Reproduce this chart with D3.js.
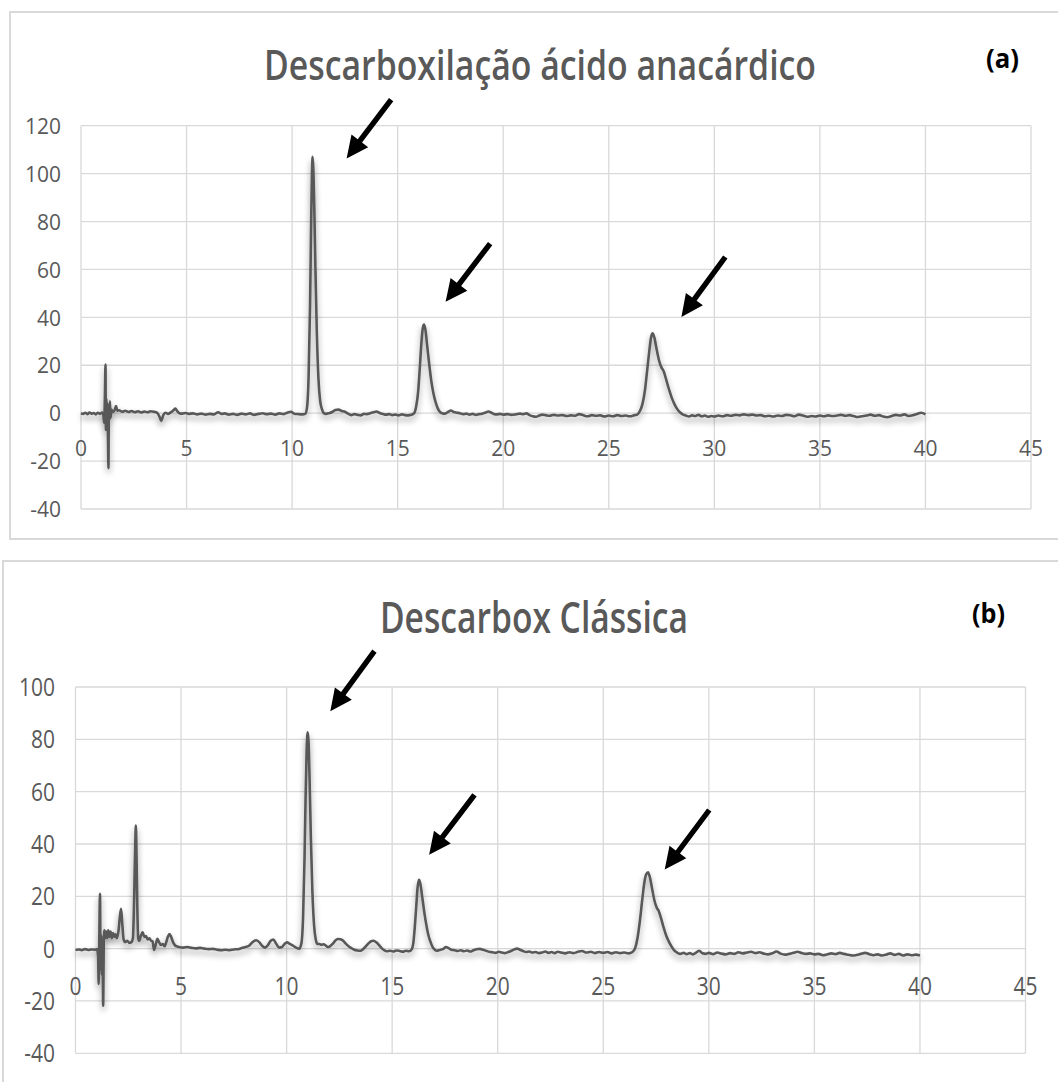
<!DOCTYPE html>
<html>
<head>
<meta charset="utf-8">
<script src="https://cdn.jsdelivr.net/npm/d3@7"></script>
<style>
  html, body { margin: 0; padding: 0; background: #fff; }
  svg { display: block; }
  text { font-family: "Open Sans", "Noto Sans", sans-serif; }
</style>
</head>
<body>
<div id="chart"></div>
<script>
// Chromatograms: time (min) vs detector signal

const xTicks = [0, 5, 10, 15, 20, 25, 30, 35, 40, 45];
const yTicksA = [-40, -20, 0, 20, 40, 60, 80, 100, 120];
const yTicksB = [-40, -20, 0, 20, 40, 60, 80, 100];

const titleA = "Descarboxilação ácido anacárdico";
const titleB = "Descarbox Clássica";
const tagA = "(a)", tagB = "(b)";

// [time, signal]
const seriesA = [
  [0,0],[0.1,-0.3],[0.2,0.2],[0.3,-0.4],[0.4,0.3],[0.5,-0.2],[0.6,0.1],[0.7,-0.5],[0.8,0.2],[0.9,-0.3],[1.0,0.3],[1.06,-1],
  [1.1,-4],[1.13,6],[1.16,20.3],[1.18,-7],[1.2,6],[1.22,-6],[1.25,4],[1.27,-5],[1.3,-23],[1.32,3],[1.34,-3],[1.37,5],[1.4,-2],[1.44,1.5],[1.5,0.5],[1.58,1],[1.66,3],[1.72,1],
  [1.8,1.2],[1.95,0.6],[2.1,1.0],[2.25,0.5],[2.4,0.9],[2.55,0.4],[2.7,0.8],[2.85,0.3],[3.0,0.7],[3.15,0.4],[3.3,0.8],[3.45,0.6],[3.6,0.2],[3.72,-1.5],[3.8,-3.2],[3.9,-0.8],[4.0,0.2],[4.12,-0.3],[4.25,0.3],[4.38,1.2],[4.47,1.9],[4.56,0.8],[4.66,0],[4.8,-0.2],[4.95,0.1],
  [5.1,-0.3],[5.3,-0.1],[5.5,-0.5],[5.7,-0.2],[5.9,-0.6],[6.1,-0.3],[6.3,-0.5],[6.5,0.4],[6.65,-0.3],[6.8,-0.1],[7.0,-0.6],[7.2,-0.3],[7.4,-0.7],[7.6,-0.2],[7.8,-0.5],[8.0,-0.1],[8.2,-0.7],[8.4,-0.3],[8.6,0],[8.8,-0.4],[9.0,-0.2],[9.2,-0.6],[9.4,-0.1],[9.6,-0.4],[9.8,0.3],[9.95,0.6],[10.1,-0.2],[10.3,-0.4],[10.5,-0.5],[10.62,-0.3],
  [10.7,2],[10.78,15],[10.85,45],[10.9,78],[10.94,100],[10.97,107],[11.0,103],[11.05,86],[11.1,62],[11.17,34],[11.25,14],[11.33,5],[11.42,1.5],[11.5,0],
  [11.6,-0.3],[11.75,0],[11.9,0.5],[12.05,1.3],[12.2,1.5],[12.35,0.9],[12.5,0.6],[12.65,-0.2],[12.8,-0.8],[12.95,-0.4],[13.1,-0.7],[13.25,-0.9],[13.4,-0.3],[13.55,-0.4],[13.7,0],[13.85,0.4],[14.0,0.7],[14.15,0.1],[14.3,-0.3],[14.45,-0.6],[14.6,-0.4],[14.75,-0.8],[14.9,-0.6],[15.05,-0.9],[15.2,-0.5],[15.35,-0.8],[15.5,-0.9],[15.65,-0.7],
  [15.78,0],[15.88,3],[15.97,9],[16.05,19],[16.13,30],[16.2,36],[16.25,37],[16.31,35],[16.4,28],[16.5,20],[16.6,13],[16.7,8],[16.8,4.5],[16.9,2],[17.0,0.5],[17.1,0],
  [17.25,-0.2],[17.4,0.6],[17.52,1.1],[17.65,0.5],[17.8,0.2],[17.95,0],[18.1,-0.4],[18.25,-0.2],[18.4,-0.6],[18.55,-0.3],[18.7,-0.7],[18.85,-0.4],[19.0,-0.2],[19.15,0.2],[19.3,0.7],[19.42,0.3],[19.55,-0.3],[19.7,-0.5],[19.85,-0.3],[20.0,-0.6],[20.2,-0.4],[20.4,-0.7],[20.6,-0.5],[20.8,-0.2],[20.95,-0.4],[21.1,-0.1],[21.25,-0.8],[21.4,-1.3],[21.55,-1.5],[21.7,-1.0],[21.85,-0.6],[22.0,-0.8],[22.2,-1.1],[22.4,-0.7],[22.6,-1.0],[22.8,-0.8],[23.0,-1.2],[23.2,-0.9],[23.4,-1.1],[23.6,-0.4],[23.8,-0.9],[24.0,-1.3],[24.2,-0.8],[24.4,-1.1],[24.6,-0.9],[24.8,-1.4],[25.0,-1.0],[25.2,-1.3],[25.4,-0.8],[25.6,-1.2],[25.8,-1.0],[26.0,-1.3],[26.2,-0.9],[26.35,-0.6],
  [26.48,1],[26.6,4],[26.72,10],[26.82,18],[26.92,26],[27.0,31.5],[27.08,33.3],[27.16,31.5],[27.26,27],[27.38,22],[27.5,19],[27.6,17.5],[27.72,14],[27.85,10],[27.98,6.5],[28.1,4],[28.22,2],[28.35,0.5],[28.5,-0.5],
  [28.65,-1],[28.8,-1.4],[28.95,-0.9],[29.1,-1.2],[29.25,-0.7],[29.4,-1.3],[29.55,-1.0],[29.7,-1.5],[29.85,-1.2],[30.0,-1.4],[30.2,-1.0],[30.4,-1.3],[30.6,-0.8],[30.8,-1.1],[31.0,-0.7],[31.2,-0.9],[31.4,-0.5],[31.6,-0.8],[31.8,-0.6],[32.0,-1.0],[32.2,-0.8],[32.4,-1.3],[32.6,-1.1],[32.8,-1.4],[33.0,-1.0],[33.2,-1.2],[33.4,-0.7],[33.6,-0.9],[33.8,-1.3],[34.0,-0.6],[34.2,-1.0],[34.4,-1.5],[34.6,-1.2],[34.8,-1.4],[35.0,-1.0],[35.2,-1.3],[35.4,-0.9],[35.6,-1.2],[35.8,-1.0],[36.0,-0.7],[36.2,-1.1],[36.4,-0.8],[36.6,-1.2],[36.8,-1.6],[37.0,-1.3],[37.2,-1.0],[37.4,-0.6],[37.6,-1.1],[37.8,-0.8],[38.0,-1.4],[38.2,-1.7],[38.4,-1.2],[38.6,-0.7],[38.8,-1.0],[39.0,-0.5],[39.2,-1.2],[39.4,-0.9],[39.6,-0.3],[39.8,0.2],[40.0,-0.5]
];

const seriesB = [
  [0,-0.5],[0.15,-0.3],[0.3,-0.6],[0.45,-0.2],[0.6,-0.5],[0.75,-0.3],[0.9,-0.4],[1.02,-0.2],
  [1.07,-3],[1.1,-13.5],[1.13,6],[1.16,21],[1.19,-8],[1.22,5],[1.25,-10],[1.28,3],[1.31,-21.8],[1.34,2],[1.37,7],[1.4,4],[1.45,6.5],[1.5,4],[1.55,7],[1.6,4.5],[1.66,6.5],[1.72,4],[1.78,6],[1.84,4.5],[1.9,5.5],[1.96,4],[2.04,7],[2.1,12],[2.16,15.2],[2.22,9],[2.28,3.5],[2.36,2.5],[2.45,3],[2.55,2.2],[2.65,2.5],[2.72,4],[2.78,20],[2.83,40],[2.86,47],[2.89,36],[2.93,15],[2.97,4],[3.02,3],[3.1,5],[3.18,6.2],[3.26,4.5],[3.34,4.8],[3.42,3.5],[3.5,4],[3.58,3],[3.65,2.8],[3.72,-0.5],[3.8,1.5],[3.88,3.8],[3.96,2.5],[4.05,1.4],[4.14,1.8],[4.22,0.9],[4.3,2.5],[4.38,4.6],[4.45,5.6],[4.53,4.5],[4.62,2.5],[4.72,1.2],[4.82,0.8],[4.95,0.5],
  [5.1,0.4],[5.3,0.6],[5.5,0.3],[5.7,0.1],[5.9,0.3],[6.1,0],[6.3,-0.2],[6.5,-0.1],[6.7,-0.4],[6.9,-0.6],[7.1,-0.4],[7.3,-0.6],[7.5,-0.3],[7.7,-0.2],[7.9,0.3],[8.05,0.6],[8.2,1.0],[8.35,2.2],[8.55,3.2],[8.7,2.5],[8.85,1.0],[8.98,0.4],[9.1,1.2],[9.25,3.0],[9.37,3.5],[9.5,2.0],[9.65,0.4],[9.78,0.6],[9.9,1.8],[10.02,2.4],[10.15,1.8],[10.3,1.2],[10.45,0.4],[10.6,0],
  [10.7,2],[10.78,12],[10.85,35],[10.9,58],[10.95,76],[11.0,82.7],[11.04,79],[11.09,64],[11.15,42],[11.22,22],[11.3,9],[11.38,3.5],[11.46,1.8],
  [11.55,1.8],[11.65,1.5],[11.75,1.7],[11.85,1.2],[11.95,0.6],[12.05,0.9],[12.18,1.8],[12.3,3.0],[12.42,3.7],[12.55,3.6],[12.68,3.0],[12.8,1.9],[12.92,1.0],[13.05,0.3],[13.2,-0.4],[13.35,-0.7],[13.5,-0.8],[13.62,-0.2],[13.75,0.9],[13.88,2.0],[14.0,2.8],[14.12,3.0],[14.25,2.4],[14.38,1.3],[14.5,0.2],[14.62,-0.6],[14.75,-1.0],[14.9,-0.8],[15.05,-1.1],[15.2,-0.7],[15.35,-0.9],[15.5,-1.2],[15.65,-0.8],[15.8,-1.0],[15.92,-0.3],
  [16.0,2],[16.07,8],[16.14,16],[16.2,23],[16.27,26.3],[16.33,25],[16.42,20],[16.52,14],[16.62,9],[16.72,5],[16.82,2.5],[16.92,0.6],[17.02,-0.4],[17.12,-0.8],
  [17.25,-0.5],[17.4,-0.2],[17.55,0.6],[17.65,0.3],[17.8,-0.4],[17.95,-0.6],[18.1,-0.9],[18.25,-0.6],[18.4,-1.0],[18.55,-0.7],[18.7,-1.1],[18.85,-0.6],[19.0,-0.2],[19.15,-0.1],[19.3,-0.4],[19.45,-0.8],[19.6,-1.2],[19.75,-1.4],[19.9,-1.6],[20.05,-1.2],[20.2,-1.5],[20.35,-1.7],[20.5,-1.3],[20.65,-0.8],[20.8,-0.2],[20.92,0],[21.05,-0.4],[21.2,-0.9],[21.35,-1.3],[21.5,-1.1],[21.65,-1.5],[21.8,-1.3],[21.95,-1.7],[22.1,-1.5],[22.25,-1.1],[22.4,-1.6],[22.55,-1.3],[22.7,-1.7],[22.85,-1.2],[23.0,-1.5],[23.2,-1.8],[23.4,-1.4],[23.6,-1.7],[23.8,-1.2],[24.0,-0.9],[24.2,-1.5],[24.4,-1.2],[24.6,-1.7],[24.8,-1.3],[25.0,-1.6],[25.2,-1.3],[25.4,-1.8],[25.6,-1.4],[25.8,-1.7],[26.0,-1.5],[26.2,-1.8],[26.38,-1.3],
  [26.5,0],[26.62,4],[26.74,11],[26.85,19],[26.95,25.5],[27.04,28.5],[27.12,29.2],[27.2,27.5],[27.3,23.5],[27.42,18.5],[27.54,15.5],[27.62,14.5],[27.74,11.5],[27.86,8],[27.98,5],[28.1,2.8],[28.22,1],[28.35,-0.6],[28.5,-1.5],
  [28.65,-2],[28.8,-1.6],[28.95,-2.1],[29.1,-1.7],[29.25,-2.2],[29.4,-1.5],[29.55,-0.8],[29.7,-1.8],[29.85,-2.0],[30.0,-1.6],[30.2,-2.1],[30.4,-1.5],[30.6,-1.9],[30.8,-2.2],[31.0,-1.7],[31.2,-2.0],[31.4,-1.4],[31.6,-1.8],[31.8,-1.5],[32.0,-1.2],[32.2,-1.7],[32.4,-1.4],[32.6,-1.9],[32.8,-2.2],[33.0,-1.8],[33.2,-1.1],[33.4,-1.9],[33.6,-2.3],[33.8,-2.0],[34.0,-1.6],[34.2,-1.2],[34.4,-1.7],[34.6,-2.0],[34.8,-1.8],[35.0,-2.2],[35.2,-2.0],[35.4,-2.5],[35.6,-2.2],[35.8,-1.8],[36.0,-2.1],[36.2,-1.6],[36.4,-2.0],[36.6,-2.3],[36.8,-2.6],[37.0,-2.4],[37.2,-2.0],[37.4,-1.6],[37.6,-2.1],[37.8,-2.5],[38.0,-2.2],[38.2,-2.6],[38.4,-2.3],[38.6,-1.8],[38.8,-2.4],[39.0,-2.0],[39.2,-2.6],[39.4,-2.2],[39.6,-2.5],[39.8,-2.3],[40.0,-2.6]
];

// arrows pointing at the peaks: [tailTime, tailSignal, tipTime, tipSignal]
const arrowsA = [[14.69, 130.9, 12.58, 106.3], [19.38, 70.8, 17.27, 46.5], [30.52, 65.2, 28.44, 40.2]];
const arrowsB = [[14.16, 113.7, 12.07, 90.7], [18.9, 58.8, 16.75, 35.9], [30.02, 53, 27.91, 30.2]];

const W = 1058, H = 1082;
const ink = "#595959", grid = "#d9d9d9";

const svg = d3.select("#chart").append("svg").attr("width", W).attr("height", H);

// soft drop shadow under the trace (Excel line effect)
const f = svg.append("defs").append("filter").attr("id", "shadow")
  .attr("filterUnits", "userSpaceOnUse").attr("x", 0).attr("y", 0).attr("width", W).attr("height", H);
f.append("feGaussianBlur").attr("in", "SourceAlpha").attr("stdDeviation", 3).attr("result", "b");
f.append("feOffset").attr("in", "b").attr("dy", 4).attr("result", "o");
f.append("feComponentTransfer").attr("in", "o").attr("result", "s")
  .append("feFuncA").attr("type", "linear").attr("slope", 0.4);
const fm = f.append("feMerge");
fm.append("feMergeNode").attr("in", "s");
fm.append("feMergeNode").attr("in", "SourceGraphic");

const panels = [
  { data: seriesA, yTicks: yTicksA, arrows: arrowsA, title: titleA, tag: tagA,
    box: [10, 12, 1070, 539], x0: 81, x1: 1031, yTop: 125.7, yBot: 509,
    titleX: 264, titleY: 80, titleLen: 552, titleSize: 41, tagX: 986, tagY: 68,
    yLabX: 61, xLabDy: 43, fs: 21, fy: 1.08 },
  { data: seriesB, yTicks: yTicksB, arrows: arrowsB, title: titleB, tag: tagB,
    box: [3, 561, 1070, 1100], x0: 75.5, x1: 1025.5, yTop: 687, yBot: 1053.3,
    titleX: 380, titleY: 633, titleLen: 308, titleSize: 43, tagX: 972, tagY: 623,
    yLabX: 55, xLabDy: 46, fs: 21, fy: 1.18 }
];

panels.forEach(p => {
  const g = svg.append("g");
  const x = d3.scaleLinear().domain([0, 45]).range([p.x0, p.x1]);
  const y = d3.scaleLinear().domain([d3.min(p.yTicks), d3.max(p.yTicks)]).range([p.yBot, p.yTop]);

  // chart border
  g.append("rect").attr("x", p.box[0]).attr("y", p.box[1])
    .attr("width", p.box[2] - p.box[0]).attr("height", p.box[3] - p.box[1])
    .attr("fill", "none").attr("stroke", grid).attr("stroke-width", 2);

  // gridlines
  g.selectAll(".hg").data(p.yTicks).enter().append("line")
    .attr("x1", x(0)).attr("x2", x(45)).attr("y1", d => y(d)).attr("y2", d => y(d))
    .attr("stroke", grid).attr("stroke-width", 1.3);
  g.selectAll(".vg").data(xTicks).enter().append("line")
    .attr("x1", d => x(d)).attr("x2", d => x(d)).attr("y1", y.range()[0]).attr("y2", y.range()[1])
    .attr("stroke", grid).attr("stroke-width", 1.3);

  // tick labels (slightly tall glyphs, as in the source image)
  g.selectAll(".yl").data(p.yTicks).enter().append("text")
    .attr("transform", d => `translate(${p.yLabX},${y(d)}) scale(1,${p.fy})`).attr("dy", "0.36em")
    .attr("text-anchor", "end").attr("font-size", p.fs).attr("fill", ink).text(d => d);
  g.selectAll(".xl").data(xTicks).enter().append("text")
    .attr("transform", d => `translate(${x(d)},${y(0) + p.xLabDy}) scale(1,${p.fy})`)
    .attr("text-anchor", "middle").attr("font-size", p.fs).attr("fill", ink).text(d => d);

  // trace
  const line = d3.line().x(d => x(d[0])).y(d => y(d[1])).curve(d3.curveMonotoneX);
  g.append("path").datum(p.data).attr("d", line)
    .attr("fill", "none").attr("stroke", ink).attr("stroke-width", 2.6)
    .attr("stroke-linejoin", "round").attr("filter", "url(#shadow)");

  // titles
  g.append("text").attr("x", p.titleX).attr("y", p.titleY)
    .attr("font-size", p.titleSize).attr("font-weight", 600).attr("fill", ink)
    .attr("textLength", p.titleLen).attr("lengthAdjust", "spacingAndGlyphs").text(p.title);
  g.append("text").attr("x", p.tagX).attr("y", p.tagY)
    .attr("font-size", 26).attr("font-weight", 700).attr("fill", "#000")
    .attr("textLength", 33).attr("lengthAdjust", "spacingAndGlyphs").text(p.tag);

  // arrows
  g.selectAll(".arrow").data(p.arrows).enter().append("path")
    .attr("fill", "#000")
    .attr("d", a => {
      const x0 = x(a[0]), y0 = y(a[1]), x1 = x(a[2]), y1 = y(a[3]);
      const len = Math.hypot(x1 - x0, y1 - y0), ux = (x1 - x0) / len, uy = (y1 - y0) / len;
      const nx = -uy, ny = ux, hw = 2.7, hl = 22, hh = 10.5;
      const bx = x1 - ux * hl, by = y1 - uy * hl;
      return "M" + [
        [x0 + nx * hw, y0 + ny * hw], [bx + nx * hw, by + ny * hw], [bx + nx * hh, by + ny * hh],
        [x1, y1], [bx - nx * hh, by - ny * hh], [bx - nx * hw, by - ny * hw], [x0 - nx * hw, y0 - ny * hw]
      ].map(q => q[0].toFixed(1) + "," + q[1].toFixed(1)).join("L") + "Z";
    });
});
</script>
</body>
</html>
